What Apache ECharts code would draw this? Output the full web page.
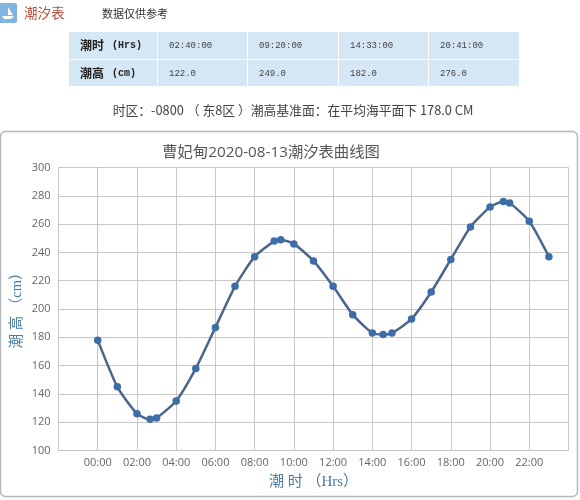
<!DOCTYPE html>
<html><head><meta charset="utf-8">
<style>html,body{margin:0;padding:0;background:#fff}#c{width:580px;height:500px}</style>
<script src="https://cdn.jsdelivr.net/npm/echarts@6/dist/echarts.min.js"></script>
</head><body><div id="c"></div>
<script>
const hours=[0,1,2,2.67,3,4,5,6,7,8,9,9.33,10,11,12,13,14,14.55,15,16,17,18,19,20,20.68,21,22,23];
const heights=[178,145,126,122,123,135,158,187,216,237,248,249,246,234,216,196,183,182,183,193,212,235,258,272,276,275,262,237];
const tideTimes=['02:40:00','09:20:00','14:33:00','20:41:00'];
const tideHeights=['122.0','249.0','182.0','276.0'];
const titleText='曹妃甸2020-08-13潮汐表曲线图';
const noteText='时区：-0800 （ 东8区 ）潮高基准面：在平均海平面下 178.0 CM';
const CJK='"Noto Sans CJK SC","Noto Sans",sans-serif';
const SER='"Liberation Serif","Noto Sans CJK SC",serif';
const colX=[69,158,248,339,429,520], rowY=[32,60,87];
const g=[];
g.push({type:'rect',z:0,shape:{x:0.5,y:131.5,width:577,height:365,r:5},style:{fill:'#fff',stroke:'#b4b8bc',lineWidth:1.5}});
g.push({type:'rect',shape:{x:-3,y:3,width:20,height:20,r:2},style:{fill:'#7fb5e0'}});
g.push({type:'polygon',shape:{points:[[8,7],[8,15],[13,15]]},style:{fill:'#fff'}});
g.push({type:'polygon',shape:{points:[[2,16],[14,16],[11,19],[4,19]]},style:{fill:'#fff'}});
g.push({type:'text',style:{x:24,y:13,text:'潮汐表',fill:'#b5503c',font:'13.5px '+CJK,textVerticalAlign:'middle'}});
g.push({type:'text',style:{x:102,y:14,text:'数据仅供参考',fill:'#333',font:'11px '+CJK,textVerticalAlign:'middle'}});
for(let r=0;r<2;r++){for(let c=0;c<5;c++){
  g.push({type:'rect',shape:{x:colX[c],y:rowY[r],width:colX[c+1]-colX[c]-1,height:rowY[r+1]-rowY[r]-1},style:{fill:'#d5e6f5'}});
}}
g.push({type:'text',style:{x:80,y:45,text:'潮时',fill:'#222',font:'bold 12px '+CJK,textVerticalAlign:'middle'}});
g.push({type:'text',style:{x:112,y:45,text:'(Hrs)',fill:'#222',font:'bold 10px "Liberation Mono",monospace',textVerticalAlign:'middle'}});
g.push({type:'text',style:{x:80,y:73,text:'潮高',fill:'#222',font:'bold 12px '+CJK,textVerticalAlign:'middle'}});
g.push({type:'text',style:{x:112,y:73,text:'(cm)',fill:'#222',font:'bold 10px "Liberation Mono",monospace',textVerticalAlign:'middle'}});
for(let i=0;i<4;i++){
  g.push({type:'text',style:{x:colX[i+1]+11,y:45.5,text:tideTimes[i],fill:'#444',font:'9px "Liberation Mono",monospace',textVerticalAlign:'middle'}});
  g.push({type:'text',style:{x:colX[i+1]+11,y:73.5,text:tideHeights[i],fill:'#444',font:'9px "Liberation Mono",monospace',textVerticalAlign:'middle'}});
}
g.push({type:'text',style:{x:293,y:110,text:noteText,fill:'#444',font:'12.8px '+CJK,textAlign:'center',textVerticalAlign:'middle'}});
const chart=echarts.init(document.getElementById('c'),null,{renderer:'canvas'});
chart.setOption({
  animation:false,
  graphic:{elements:g},
  title:{text:titleText,left:266,top:148,textAlign:'center',textVerticalAlign:'middle',textStyle:{fontFamily:'"Open Sans","Noto Sans CJK SC",sans-serif',fontSize:15.3,fontWeight:'normal',color:'#555'}},
  grid:{left:58.5,right:11.5,top:167.5,bottom:49.5,containLabel:false,outerBoundsMode:'none'},
  xAxis:{type:'value',min:-2,max:24,interval:2,
    name:'潮 时 （Hrs）',nameLocation:'middle',nameGap:24,
    nameTextStyle:{fontFamily:SER,fontSize:15,color:'#4a7ba6'},
    axisLine:{show:true,lineStyle:{color:'#c4c4c4'}},axisTick:{show:false},
    axisLabel:{fontFamily:'"Open Sans",sans-serif',fontSize:11,color:'#666',margin:7,showMinLabel:false,showMaxLabel:false,
      formatter:v=>(v<0||v>=24)?'':String(v).padStart(2,'0')+':00'},
    splitLine:{show:true,lineStyle:{color:'#c8c8c8',width:1}}},
  yAxis:{type:'value',min:100,max:300,interval:20,
    name:'潮 高 （cm）',nameLocation:'middle',nameGap:34,nameMoveOverlap:false,
    nameTextStyle:{fontFamily:SER,fontSize:14.5,color:'#4a7ba6',padding:[0,0,0,4]},
    axisLine:{show:true,lineStyle:{color:'#c4c4c4'}},axisTick:{show:false},
    axisLabel:{fontFamily:'"Open Sans",sans-serif',fontSize:11,color:'#666',margin:8},
    splitLine:{show:true,lineStyle:{color:'#c8c8c8',width:1}}},
  series:[{type:'line',data:hours.map((h,i)=>[h,heights[i]]),smooth:0.2,
    symbol:'circle',symbolSize:7.5,
    lineStyle:{color:'#4a6590',width:2.5},itemStyle:{color:'#3d6ca6'}}]
});
</script></body></html>
